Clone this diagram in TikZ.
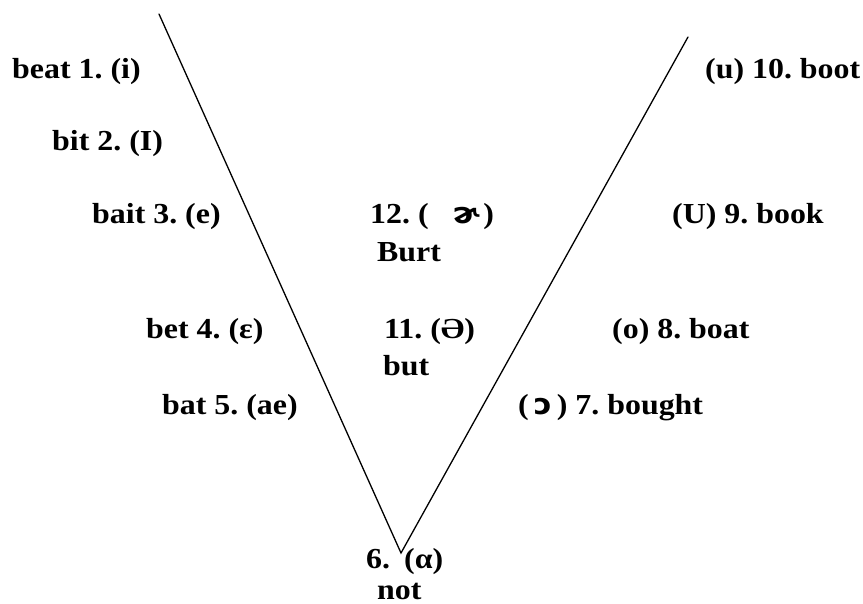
\documentclass[tikz,border=0pt]{standalone}
\usepackage{fontspec}
\setmainfont[FakeStretch=1.1]{Liberation Serif}
\newfontfamily\ipafont[FakeStretch=1.05]{DejaVu Sans}
\usetikzlibrary{positioning}
\frenchspacing

\begin{document}
\begin{tikzpicture}[
  x=1pt,y=-1pt,
  vowel/.style={anchor=base west,inner sep=0pt,
    font=\fontsize{29}{32}\selectfont\bfseries},
  vline/.style={line width=1.3pt,line cap=round}
]
\useasboundingbox (0,0) rectangle (863,604);
% the V
\coordinate (ltop) at (159,14);
\coordinate (apex) at (401,553);
\coordinate (rtop) at (688,37);
\draw[vline] (ltop) -- (apex) -- (rtop);
% front vowels
\node[vowel] (v1) at (12,79) {beat 1. (i)};
\node[vowel] (v2) at (52,151) {bit 2. (I)};
\node[vowel] (v3) at (92,224) {bait 3. (e)};
\node[vowel] (v4) at (146,339) {bet 4. (ε)};
\node[vowel] (v5) at (162,414) {bat 5. (ae)};
% bottom
\node[vowel] (v6) at (366,568) {6.};
\node[vowel] (v6b) at (404,568) {(α)};
\node[vowel] (w6) at (377,599) {not};
% back vowels
\node[vowel] (v7) at (518,414) {(\hspace{5pt}{\ipafont ɔ}\hspace{5pt}) 7. bought};
\node[vowel] (v8) at (612,339) {(o) 8. boat};
\node[vowel] (v9) at (672,224) {(U) 9. book};
\node[vowel] (v10) at (705,79) {(u) 10. boot};
% central vowels
\node[vowel] (v11) at (384,339) {11. (Ə)};
\node[vowel] (w11) at (383,376) {but};
\node[vowel] (v12) at (370,224) {12. (\hspace{24pt}{\ipafont ɚ}\hspace{4pt})};
\node[vowel] (w12) at (377,262) {Burt};
\end{tikzpicture}
\end{document}
